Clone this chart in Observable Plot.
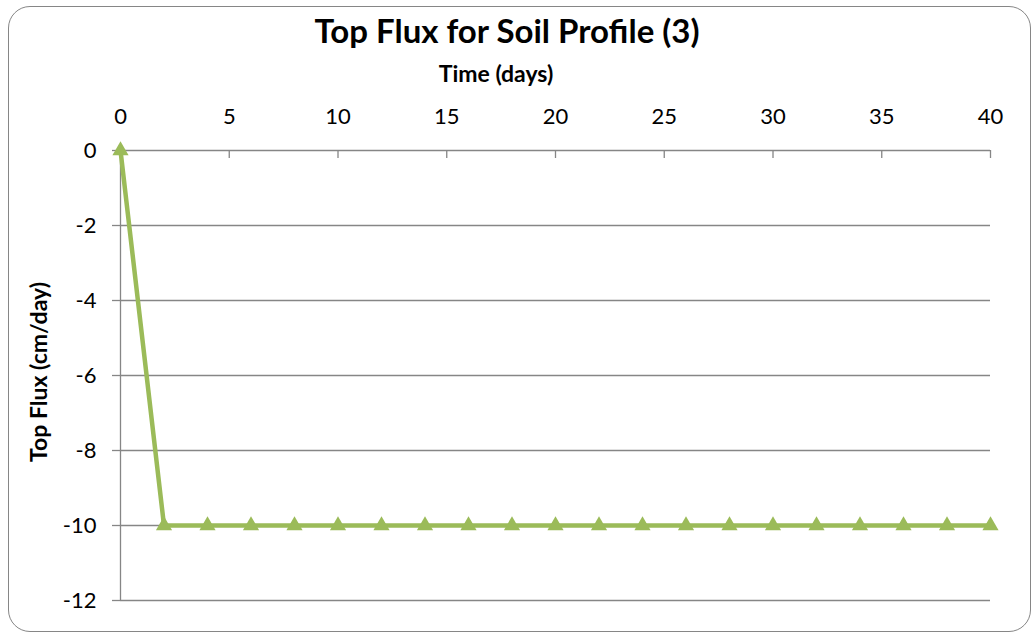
<!DOCTYPE html>
<html>
<head>
<meta charset="utf-8">
<script src="https://cdn.jsdelivr.net/npm/d3@7"></script>
<script src="https://cdn.jsdelivr.net/npm/@observablehq/plot@0.6"></script>
<style>
  html, body { margin: 0; padding: 0; background: #fff; }
  #wrap { position: relative; width: 1036px; height: 637px; overflow: hidden; font-family: Lato, "Open Sans", sans-serif; }
  #frame { position: absolute; left: 8px; top: 6px; width: 1023px; height: 626px; border: 1.5px solid #868686; border-radius: 22px; box-sizing: border-box; }
  #chart { position: absolute; left: 0; top: 0; }
  .lbl { position: absolute; white-space: nowrap; font-weight: bold; color: #000; line-height: 1; }
  #title { font-size: 33px; left: 507px; top: 14px; transform: translateX(-50%); }
  #xlabel { font-size: 23px; left: 496px; top: 62px; transform: translateX(-50%); }
  #ylabel { font-size: 23px; left: 38px; top: 372px; transform: translate(-50%, -50%) rotate(-90deg); }
</style>
</head>
<body>
<div id="wrap">
  <div id="frame"></div>
  <div id="chart"></div>
  <div class="lbl" id="title">Top Flux for Soil Profile (3)</div>
  <div class="lbl" id="xlabel">Time (days)</div>
  <div class="lbl" id="ylabel">Top Flux (cm/day)</div>
</div>
<script>
// Data
const days = [0, 2, 4, 6, 8, 10, 12, 14, 16, 18, 20, 22, 24, 26, 28, 30, 32, 34, 36, 38, 40];
const flux = [0, -10, -10, -10, -10, -10, -10, -10, -10, -10, -10, -10, -10, -10, -10, -10, -10, -10, -10, -10, -10];
const xTicks = [0, 5, 10, 15, 20, 25, 30, 35, 40];
const yTicks = [0, -2, -4, -6, -8, -10, -12];

const data = days.map((d, i) => ({day: d, flux: flux[i]}));
const axisColor = "#868686";
const green = "#9BBB59";
const fmt = d => String(d);

const chart = Plot.plot({
  width: 1036,
  height: 637,
  marginLeft: 120,
  marginRight: 46,
  marginTop: 150,
  marginBottom: 37,
  style: { fontFamily: "Lato, 'Open Sans', sans-serif", fontSize: "22px", background: "transparent", color: "#000" },
  x: { domain: [0, 40] },
  y: { domain: [-12, 0] },
  marks: [
    Plot.gridY(yTicks, { stroke: axisColor, strokeOpacity: 1, strokeWidth: 1.3 }),
    Plot.ruleX([0], { stroke: axisColor, strokeWidth: 1.3 }),
    Plot.tickX(xTicks, { x: d => d, stroke: axisColor, strokeWidth: 1.3, insetBottom: 442 }),
    Plot.axisY(yTicks, { tickSize: 8, tickPadding: 16, tickFormat: fmt, stroke: axisColor, strokeWidth: 1.3, label: null, fill: "#000", fontSize: 22 }),
    Plot.axisX(xTicks, { anchor: "top", tickSize: 0, tickPadding: 27, tickFormat: fmt, label: null, fill: "#000", fontSize: 22 }),
    Plot.line(data, { x: "day", y: "flux", stroke: green, strokeWidth: 4.5 }),
    Plot.dot(data, { x: "day", y: "flux", symbol: "triangle", fill: green, r: 6 })
  ]
});
document.getElementById("chart").appendChild(chart);
</script>
</body>
</html>
